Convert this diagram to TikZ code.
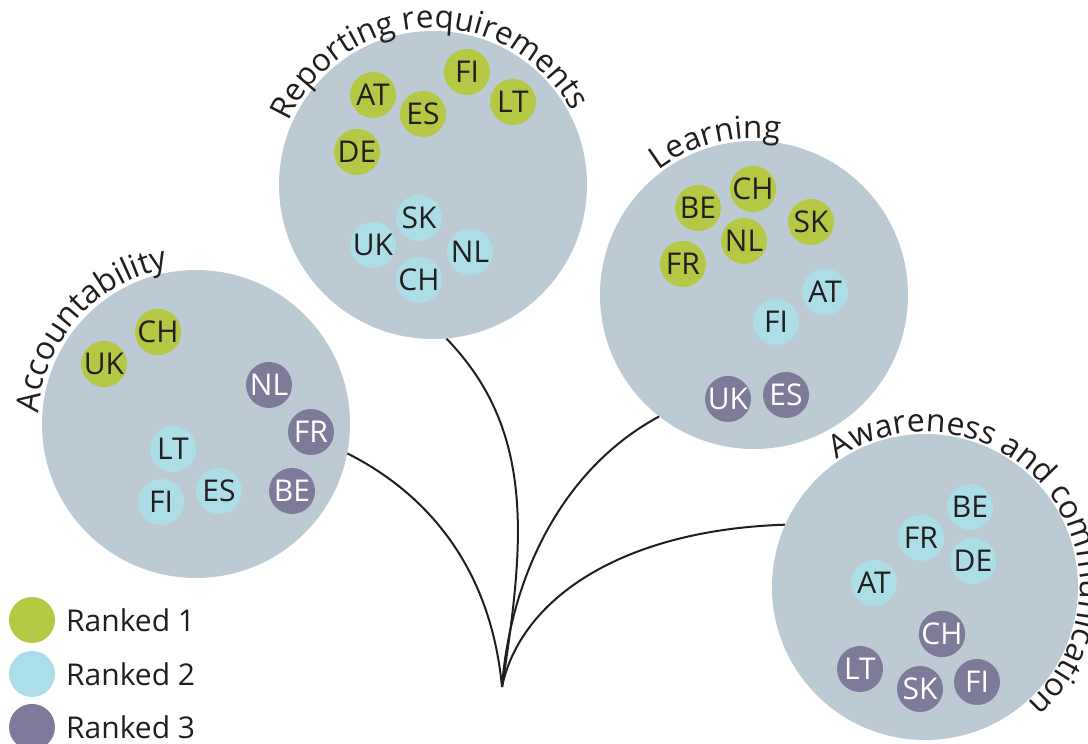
\documentclass[tikz,border=0pt]{standalone}
\usepackage{fontspec}
\setmainfont{Open Sans}
\usetikzlibrary{decorations.text}
\definecolor{bigc}{RGB}{188,202,212}
\definecolor{rone}{RGB}{181,200,67}
\definecolor{rtwo}{RGB}{172,222,232}
\definecolor{rthree}{RGB}{126,122,154}
\definecolor{ink}{RGB}{34,30,32}
\newcommand{\lblfont}{\fontsize{30pt}{36pt}\selectfont}
\newcommand{\ttlfont}{\fontsize{32pt}{36pt}\selectfont}
\newcommand{\ttlfontb}{\fontsize{31.5pt}{36pt}\selectfont}
\newcommand{\ttlfontc}{\fontsize{32pt}{36pt}\selectfont}
\begin{document}
\begin{tikzpicture}[x=1pt,y=1pt,
  big/.style={circle,fill=bigc,minimum size=308pt,inner sep=0pt},
  dot/.style={circle,minimum size=46pt,inner sep=0pt,font=\lblfont,text height=21.4pt,text depth=0pt},
  one/.style={dot,fill=rone,text=ink},
  two/.style={dot,fill=rtwo,text=ink},
  three/.style={dot,fill=rthree,text=white},
  link/.style={draw=ink,line width=2pt},
  legtext/.style={anchor=west,inner sep=0pt,font=\lblfont,text=ink}]
\useasboundingbox (0,0) rectangle (1088,744);

% big circles
\node[big] (acc) at (196,320) {};
\node[big] (rep) at (433,559) {};
\node[big] (lea) at (754,449) {};
\node[big,minimum size=306pt] (awa) at (925,157) {};

% titles
\path[decorate,decoration={text along path,text align=center,
  text={|\ttlfont\color{ink}|Accountability}}]
  ([shift={(223:158)}]acc.center) arc[start angle=223,end angle=53,radius=158];
\path[decorate,decoration={text along path,text align=center,
  text={|\ttlfontb\color{ink}|Reporting requirements}}]
  ([shift={(177:157)}]rep.center) arc[start angle=177,end angle=7,radius=157];
\path[decorate,decoration={text along path,text align=center,
  text={|\ttlfontb\color{ink}|Learning}}]
  ([shift={(189:157)}]lea.center) arc[start angle=189,end angle=19,radius=157];
\path[decorate,decoration={text along path,text align=center,
  text={|\ttlfontc\color{ink}|Awareness and communication}}]
  ([shift={(128:155)}]awa.center) arc[start angle=128,end angle=-52,radius=155];

% Accountability
\node[one] (accCH) at (158,412) {CH};
\node[one] (accUK) at (104,380) {UK};
\node[three] (accNL) at (269,359) {NL};
\node[three] (accFR) at (311,312) {FR};
\node[two] (accLT) at (173,295) {LT};
\node[two] (accES) at (219,253) {ES};
\node[two] (accFI) at (161,242) {FI};
\node[three] (accBE) at (292,253) {BE};

% Reporting requirements
\node[one] (repFI) at (467,672) {FI};
\node[one] (repAT) at (373,649) {AT};
\node[one] (repES) at (423,630) {ES};
\node[one] (repLT) at (513,642) {LT};
\node[one] (repDE) at (357,592) {DE};
\node[two] (repSK) at (419,526) {SK};
\node[two] (repUK) at (373,499) {UK};
\node[two] (repNL) at (470,492) {NL};
\node[two] (repCH) at (419,464) {CH};

% Learning
\node[one] (leaCH) at (753,555) {CH};
\node[one] (leaBE) at (698,536) {BE};
\node[one] (leaSK) at (811,522) {SK};
\node[one] (leaNL) at (744,503) {NL};
\node[one] (leaFR) at (683,480) {FR};
\node[two] (leaAT) at (825,452) {AT};
\node[two] (leaFI) at (776,422) {FI};
\node[three] (leaUK) at (728,345) {UK};
\node[three] (leaES) at (786,349) {ES};

% Awareness and communication
\node[two] (awaBE) at (970,237) {BE};
\node[two] (awaFR) at (921,206) {FR};
\node[two] (awaDE) at (973,183) {DE};
\node[two] (awaAT) at (874,161) {AT};
\node[three] (awaCH) at (942,110) {CH};
\node[three] (awaLT) at (860,75) {LT};
\node[three] (awaFI) at (977,62) {FI};
\node[three] (awaSK) at (920,55) {SK};

% connectors
\coordinate (root) at (502,57);
\draw[link] (root) .. controls (490,184) and (420,254) .. (acc.-11);
\draw[link] (root) .. controls (525,204) and (535,314) .. (rep.-85.5);
\draw[link] (root) .. controls (510,164) and (560,274) .. (lea.232.4);
\draw[link] (root) .. controls (520,144) and (620,214) .. (awa.156.8);

% legend
\node[dot,fill=rone] (leg1) at (32,124) {};
\node[dot,fill=rtwo] (leg2) at (32,70) {};
\node[dot,fill=rthree] (leg3) at (32,17) {};
\node[legtext] (leg1t) at (66,124) {Ranked 1};
\node[legtext] (leg2t) at (66,70) {Ranked 2};
\node[legtext] (leg3t) at (66,17) {Ranked 3};
\end{tikzpicture}
\end{document}
